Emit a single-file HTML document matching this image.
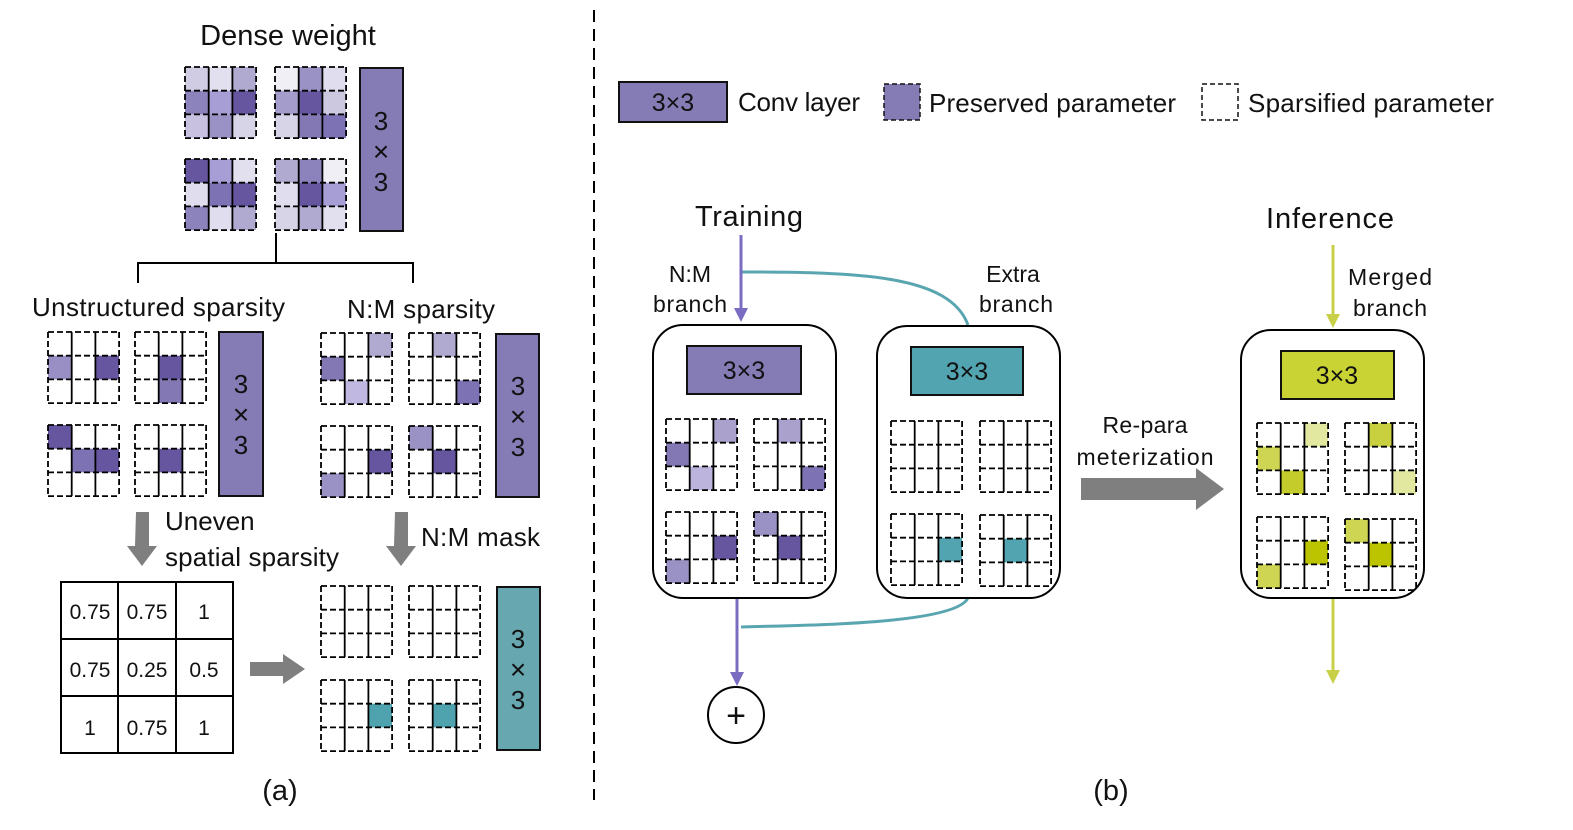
<!DOCTYPE html><html><head><meta charset="utf-8"><style>body{margin:0;background:#fff}svg{display:block}text{font-family:"Liberation Sans",sans-serif;fill:#111}</style></head><body>
<svg id="s" width="1573" height="830" xmlns="http://www.w3.org/2000/svg">
<defs>
<marker id="ap" markerWidth="14" markerHeight="14" refX="8" refY="7" orient="auto" markerUnits="userSpaceOnUse"><path d="M0,0 L14,7 L0,14z" fill="#7a6cc0"/></marker>
<marker id="ag" markerWidth="14" markerHeight="14" refX="8" refY="7" orient="auto" markerUnits="userSpaceOnUse"><path d="M0,0 L14,7 L0,14z" fill="#c8d048"/></marker>
</defs>
<line x1="594" y1="10" x2="594" y2="800" stroke="#000" stroke-width="2" stroke-dasharray="12,7"/>
<text x="288" y="45" font-size="29" text-anchor="middle">Dense weight</text>
<rect x="360" y="68" width="43" height="163" fill="#857bb5" stroke="#111" stroke-width="2"/>
<text x="381" y="130" font-size="26" text-anchor="middle">3</text><text x="381" y="161" font-size="28" text-anchor="middle">×</text><text x="381" y="191" font-size="26" text-anchor="middle">3</text>
<path d="M138,283 V263 H413 V283 M276,233 V263" fill="none" stroke="#000" stroke-width="2"/>
<text x="32" y="316" font-size="26" textLength="253">Unstructured sparsity</text>
<text x="347" y="318" font-size="26" textLength="148">N:M sparsity</text>
<rect x="219" y="332" width="44" height="164" fill="#857bb5" stroke="#111" stroke-width="2"/>
<text x="241" y="393" font-size="26" text-anchor="middle">3</text><text x="241" y="424" font-size="28" text-anchor="middle">×</text><text x="241" y="454" font-size="26" text-anchor="middle">3</text>
<rect x="496" y="334" width="43" height="163" fill="#857bb5" stroke="#111" stroke-width="2"/>
<text x="518" y="395" font-size="26" text-anchor="middle">3</text><text x="518" y="426" font-size="28" text-anchor="middle">×</text><text x="518" y="456" font-size="26" text-anchor="middle">3</text>
<rect x="497" y="587" width="43" height="163" fill="#67a7b0" stroke="#111" stroke-width="2"/>
<text x="518" y="648" font-size="26" text-anchor="middle">3</text><text x="518" y="679" font-size="28" text-anchor="middle">×</text><text x="518" y="709" font-size="26" text-anchor="middle">3</text>
<path d="M136,512 H149 V546 H157 L142,566 L127,546 H135z" fill="#7f7f7f"/>
<path d="M395,512 H408 V546 H416 L401,566 L386,546 H394z" fill="#7f7f7f"/>
<path d="M250,662 H283 V654 L305,669 L283,684 V676 H250z" fill="#7f7f7f"/>
<text x="165" y="530" font-size="26">Uneven</text><text x="165" y="566" font-size="26" textLength="174">spatial sparsity</text>
<text x="421" y="546" font-size="26" textLength="119">N:M mask</text>
<g stroke="#000" stroke-width="2" fill="none"><rect x="61" y="582" width="172" height="171"/><path d="M118,582V753M176,582V753M61,639H233M61,696H233"/></g>
<g font-size="21" text-anchor="middle"><text x="90" y="619">0.75</text><text x="147" y="619">0.75</text><text x="204" y="619">1</text><text x="90" y="677">0.75</text><text x="147" y="677">0.25</text><text x="204" y="677">0.5</text><text x="90" y="735">1</text><text x="147" y="735">0.75</text><text x="204" y="735">1</text></g>
<text x="280" y="800" font-size="29" text-anchor="middle">(a)</text>
<text x="1111" y="800" font-size="29" text-anchor="middle">(b)</text>
<!-- legend -->
<rect x="619" y="82" width="108" height="40" fill="#857bb5" stroke="#111" stroke-width="2"/>
<text x="673" y="111" font-size="25" text-anchor="middle">3×3</text>
<text x="738" y="111" font-size="26" textLength="122">Conv layer</text>
<rect x="884" y="84" width="36" height="36" fill="#857bb5" stroke="#111" stroke-width="1.5" stroke-dasharray="5,3"/>
<text x="929" y="112" font-size="26" textLength="247">Preserved parameter</text>
<rect x="1202" y="84" width="36" height="36" fill="#fff" stroke="#111" stroke-width="1.5" stroke-dasharray="5,3"/>
<text x="1248" y="112" font-size="26" textLength="246">Sparsified parameter</text>
<!-- panel b -->
<text x="749" y="226" font-size="29" text-anchor="middle" textLength="108">Training</text>
<text x="690" y="282" font-size="23" text-anchor="middle">N:M</text><text x="690" y="312" font-size="23" text-anchor="middle" textLength="74">branch</text>
<text x="1013" y="282" font-size="23" text-anchor="middle">Extra</text><text x="1016" y="312" font-size="23" text-anchor="middle" textLength="74">branch</text>
<text x="1330" y="228" font-size="29" text-anchor="middle" textLength="128">Inference</text>
<text x="1390" y="285" font-size="23" text-anchor="middle" textLength="84">Merged</text><text x="1390" y="316" font-size="23" text-anchor="middle" textLength="74">branch</text>
<text x="1145" y="433" font-size="23" text-anchor="middle" textLength="85">Re-para</text><text x="1145" y="465" font-size="23" text-anchor="middle" textLength="137">meterization</text>
<path d="M741,272 C860,272 950,275 968,325" fill="none" stroke="#5aa6b0" stroke-width="3"/>
<path d="M968,598 C955,625 800,625 741,627" fill="none" stroke="#5aa6b0" stroke-width="3"/>
<line x1="741" y1="235" x2="741" y2="316" stroke="#7a6cc0" stroke-width="3" marker-end="url(#ap)"/>
<line x1="737" y1="598" x2="737" y2="680" stroke="#7a6cc0" stroke-width="3" marker-end="url(#ap)"/>
<circle cx="736" cy="715" r="28" fill="#fff" stroke="#000" stroke-width="2"/>
<text x="736" y="727" font-size="34" text-anchor="middle">+</text>
<line x1="1333" y1="245" x2="1333" y2="322" stroke="#c8d048" stroke-width="3" marker-end="url(#ag)"/>
<line x1="1333" y1="598" x2="1333" y2="678" stroke="#c8d048" stroke-width="3" marker-end="url(#ag)"/>
<path d="M1081,478 H1196 V468 L1224,489 L1196,510 V500 H1081z" fill="#7f7f7f"/>
<rect x="653" y="325" width="183" height="273" rx="30" fill="#fff" stroke="#000" stroke-width="2"/>
<rect x="877" y="326" width="183" height="272" rx="30" fill="#fff" stroke="#000" stroke-width="2"/>
<rect x="1241" y="330" width="183" height="268" rx="30" fill="#fff" stroke="#000" stroke-width="2"/>
<rect x="687" y="346" width="114" height="48" fill="#857bb5" stroke="#111" stroke-width="2"/>
<text x="744" y="379" font-size="25" text-anchor="middle">3×3</text>
<rect x="911" y="347" width="112" height="48" fill="#52a5b0" stroke="#111" stroke-width="2"/>
<text x="967" y="380" font-size="25" text-anchor="middle">3×3</text>
<rect x="1281" y="351" width="113" height="48" fill="#cad334" stroke="#111" stroke-width="2"/>
<text x="1337" y="384" font-size="25" text-anchor="middle">3×3</text>
<g id="grids"></g>
</svg>
<script>
var NS="http://www.w3.org/2000/svg",G=document.getElementById("grids");
function el(t,a){var e=document.createElementNS(NS,t);for(var k in a)e.setAttribute(k,a[k]);G.appendChild(e);}
function grid(x,y,f,s){s=s||23.7;
 for(var r=0;r<3;r++)for(var c=0;c<3;c++){var v=f[r*3+c];if(v)el("rect",{x:x+c*s,y:y+r*s,width:s,height:s,fill:v});}
 for(var i=0;i<4;i++){
  el("line",{x1:x,y1:y+i*s,x2:x+3*s,y2:y+i*s,stroke:"#000","stroke-width":1.8,"stroke-dasharray":"6,3"});
  el("line",{x1:x+i*s,y1:y,x2:x+i*s,y2:y+3*s,stroke:"#000","stroke-width":1.8,"stroke-dasharray":(i==0||i==3)?"6,3":"none"});
 }}
function sp(m){var a=[null,null,null,null,null,null,null,null,null];for(var k in m)a[k]=m[k];return a;}
grid(185,67,["#d0cce4","#e2e0ee","#b0aad0","#8c82bc","#a89ed6","#6656a0","#c8c2e0","#9a92c4","#d8d4e8"]);
grid(275,67,["#f0eff6","#9a92c4","#e0ddee","#a49cca","#6656a0","#ccc8e0","#d8d4e8","#8378b4","#7c72b4"]);
grid(185,159,["#6656a0","#a89ed6","#e2e0ee","#e0ddee","#7c72b4","#6656a0","#8c82bc","#e0ddee","#b0aad0"]);
grid(275,159,["#b0aad0","#8c82bc","#f0eff6","#e0ddee","#6656a0","#a89ed6","#d8d4e8","#b0aad0","#e2e0ee"]);
grid(48,332,sp({3:"#9a8fc4",5:"#6656a0"}));
grid(135,332,sp({4:"#6656a0",7:"#8378b4"}));
grid(48,425,sp({0:"#6656a0",4:"#7c72b4",5:"#6656a0"}));
grid(135,425,sp({4:"#6656a0"}));
grid(321,333,sp({2:"#b0aad0",3:"#8378b4",7:"#c0b8e0"}));
grid(409,333,sp({1:"#b0aad0",8:"#7c72b4"}));
grid(321,426,sp({5:"#6656a0",6:"#9a92c4"}));
grid(409,426,sp({0:"#9a92c4",4:"#6656a0"}));
grid(321,586,sp({}));grid(409,586,sp({}));
grid(321,680,sp({5:"#4fa3ae"}));grid(409,680,sp({4:"#4fa3ae"}));
grid(666,419,sp({2:"#aaa2cc",3:"#8378b4",7:"#bcb4dc"}));
grid(754,419,sp({1:"#aaa2cc",8:"#7c72b4"}));
grid(666,512,sp({5:"#6656a0",6:"#9a92c4"}));
grid(754,512,sp({0:"#9a92c4",4:"#6656a0"}));
grid(891,421,sp({}));grid(980,421,sp({}));
grid(891,514,sp({5:"#52a5b0"}));grid(980,515,sp({4:"#52a5b0"}));
grid(1257,423,sp({2:"#e2e8a0",3:"#cdd552",7:"#c4cc2c"}));
grid(1345,423,sp({1:"#c8d040",8:"#e2e8a0"}));
grid(1257,517,sp({5:"#bcc400",6:"#cdd552"}));
grid(1345,519,sp({0:"#cdd552",4:"#bcc400"}));
</script>
</body></html>
